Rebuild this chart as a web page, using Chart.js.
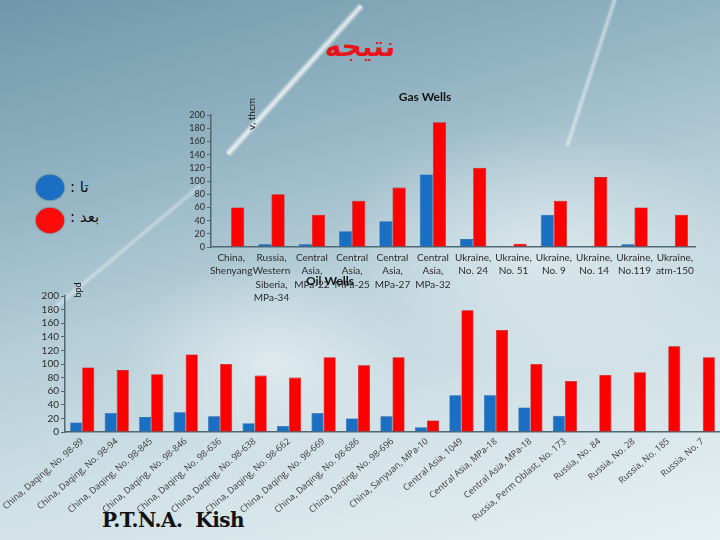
<!DOCTYPE html>
<html>
<head>
<meta charset="utf-8">
<script src="https://cdn.jsdelivr.net/npm/chart.js@4/dist/chart.umd.min.js"></script>
<style>
  html, body { margin:0; padding:0; }
  body { width:720px; height:540px; position:relative; overflow:hidden;
    background: linear-gradient(165deg, #6f97a9 0%, #8fb1c0 25%, #b4cdd7 48%, #cfe0e6 70%, #e7f0f3 100%); }
  .streak { position:absolute; background: linear-gradient(90deg, rgba(255,255,255,0) 0%, rgba(255,255,255,0.8) 50%, rgba(255,255,255,0) 100%); }
  .glow { position:absolute; border-radius:50%; background: radial-gradient(ellipse at center, rgba(255,255,255,0.45) 0%, rgba(255,255,255,0) 70%); }
  #title { position:absolute; left:0; width:720px; top:30px; text-align:center; color:#e8141b; font: bold 28px "DejaVu Sans", "Noto Sans", sans-serif; }
  .dot { position:absolute; width:28px; height:25px; border-radius:50%; }
  .lg { position:absolute; font: 15px "DejaVu Sans", sans-serif; color:#111; }
  #kish { position:absolute; left:102px; top:508px; font: bold 20px "DejaVu Serif", serif; color:#111; letter-spacing:-0.5px; }
  canvas { position:absolute; }
</style>
</head>
<body>
<div class="glow" style="left:330px;top:120px;width:420px;height:260px;"></div>
<div class="glow" style="left:120px;top:260px;width:300px;height:200px;"></div>
<div class="streak" style="left:290px;top:-20px;width:9px;height:200px;transform:rotate(42deg);"></div>
<div class="streak" style="left:120px;top:150px;width:7px;height:200px;transform:rotate(50deg);opacity:0.45;"></div>
<div class="streak" style="left:590px;top:-20px;width:7px;height:170px;transform:rotate(18deg);opacity:0.6;"></div>
<div id="title">نتيجه</div>
<div class="dot" style="left:36px;top:175px;background:#1a6fc4;box-shadow:0 0 2px #0b3c70;"></div>
<div class="dot" style="left:36px;top:208px;background:#ff0a0a;box-shadow:0 0 2px #8a0000;"></div>
<div class="lg" style="left:70px;top:178px;">: تا</div>
<div class="lg" style="left:70px;top:208px;">: بعد</div>
<div id="kish">P.T.N.A.&nbsp; Kish</div>

<canvas id="gas" width="545" height="240" style="left:160px;top:80px;width:545px;height:240px;"></canvas>
<canvas id="oil" width="720" height="270" style="left:0px;top:270px;width:720px;height:270px;"></canvas>

<script>
// ---- Gas wells data ----
const gasCategories = [
  ["China,","Shenyang"], ["Russia,","Western","Siberia,","MPa-34"], ["Central","Asia,","MPa-22"],
  ["Central","Asia,","MPa-25"], ["Central","Asia,","MPa-27"], ["Central","Asia,","MPa-32"],
  ["Ukraine,","No. 24"], ["Ukraine,","No. 51"], ["Ukraine,","No. 9"], ["Ukraine,","No. 14"],
  ["Ukraine,","No.119"], ["Ukraine,","atm-150"]
];
const gasBefore = [0, 4, 4, 24, 39, 110, 12, 0, 49, 0, 4, 0];
const gasAfter  = [60, 80, 49, 70, 90, 189, 120, 5, 70, 106, 60, 49];

// ---- Oil wells data ----
const oilCategories = [
  "China, Daqing, No. 98-89", "China, Daqing, No. 98-94", "China, Daqing, No. 98-845",
  "China, Daqing, No. 98-846", "China, Daqing, No. 98-636", "China, Daqing, No. 98-638",
  "China, Daqing, No. 98-662", "China, Daqing, No. 98-669", "China, Daqing, No. 98-686",
  "China, Daqing, No. 98-696", "China, Sanyuan, MPa-10", "Central Asia, 1049",
  "Central Asia, MPa-18", "Central Asia, MPa-18", "Russia, Perm Oblast, No. 173",
  "Russia, No. 84", "Russia, No. 28", "Russia, No. 185", "Russia, No. 7"
];
const oilBefore = [14, 28, 22, 29, 23, 13, 9, 28, 20, 23, 7, 54, 54, 36, 24, 0, 0, 0, 0];
const oilAfter  = [95, 91, 85, 114, 100, 83, 80, 110, 98, 110, 17, 179, 150, 100, 75, 84, 88, 126, 110];

// ---- shared y tick labels ----
const yTickValues = [0, 20, 40, 60, 80, 100, 120, 140, 160, 180, 200];

const BLUE = '#1b6fc2', BLUE_EDGE = '#145aa0', RED = '#ff0000', RED_EDGE = '#c40000';
const AXIS = '#4f6873';

function labelsPlugin(items) {
  return {
    id: 'extraText',
    afterDraw(chart) {
      const ctx = chart.ctx;
      items.forEach(it => {
        ctx.save();
        ctx.font = it.font;
        ctx.fillStyle = it.color || '#111';
        ctx.textAlign = 'center';
        ctx.textBaseline = 'middle';
        ctx.translate(it.x, it.y);
        if (it.rot) ctx.rotate(it.rot);
        ctx.fillText(it.text, 0, 0);
        ctx.restore();
      });
    }
  };
}

function makeChart(id, cats, before, after, opts) {
  return new Chart(document.getElementById(id), {
    type: 'bar',
    data: {
      labels: cats,
      datasets: [
        { label: 'before', data: before, backgroundColor: BLUE, borderColor: BLUE_EDGE, borderWidth: 0.6,
          categoryPercentage: opts.catPct, barPercentage: 1.0 },
        { label: 'after', data: after, backgroundColor: RED, borderColor: RED_EDGE, borderWidth: 0.6,
          categoryPercentage: opts.catPct, barPercentage: 1.0 }
      ]
    },
    options: {
      responsive: false,
      animation: false,
      layout: { padding: { top: opts.padTop, right: opts.padRight, left: 0, bottom: 0 } },
      plugins: { legend: { display: false }, tooltip: { enabled: false }, title: { display: false } },
      scales: {
        x: {
          grid: { display: false, drawTicks: false },
          border: { color: AXIS, width: 1.5 },
          ticks: {
            autoSkip: false, maxRotation: opts.rot, minRotation: opts.rot,
            color: opts.xColor, font: opts.xFont, padding: opts.xPad
          },
          afterFit(s) { s.height = opts.xH; s.paddingLeft = 0; s.paddingRight = 0; }
        },
        y: {
          min: yTickValues[0], max: yTickValues[yTickValues.length - 1],
          grid: { drawOnChartArea: false, drawTicks: true, tickLength: 4, color: AXIS },
          border: { color: AXIS, width: 1.5 },
          ticks: { autoSkip: false, color: '#2a2a2a', font: opts.yFont, padding: 2 },
          afterBuildTicks(s) { s.ticks = yTickValues.map(v => ({ value: v })); },
          afterFit(s) { s.width = opts.yW; }
        }
      }
    },
    plugins: [labelsPlugin(opts.texts)]
  });
}

makeChart('gas', gasCategories, gasBefore, gasAfter, {
  catPct: 0.65, padTop: 35, padRight: 10, xH: 73, yW: 51, rot: 0,
  xColor: '#2b2b2b', xFont: { family: 'Lato', size: 10, lineHeight: 1.35 }, xPad: 4,
  yFont: { family: 'Lato', size: 9 },
  texts: [
    { text: 'Gas Wells', x: 265, y: 17, font: 'bold 12px Lato', color: '#151515' },
    { text: 'v, thcm', x: 92, y: 34, font: '10px Lato', color: '#151515', rot: -Math.PI / 2 }
  ]
});

makeChart('oil', oilCategories, oilBefore, oilAfter, {
  catPct: 0.7, padTop: 26, padRight: 0, xH: 108, yW: 65, rot: 41,
  xColor: '#3a3a3a', xFont: { family: 'Open Sans', size: 9 }, xPad: 4,
  yFont: { family: 'Lato', size: 10 },
  texts: [
    { text: 'Oil Wells', x: 330, y: 11, font: 'bold 12px Lato', color: '#151515' },
    { text: 'bpd', x: 78, y: 20, font: '9px Lato', color: '#151515', rot: -Math.PI / 2 }
  ]
});
</script>
</body>
</html>
